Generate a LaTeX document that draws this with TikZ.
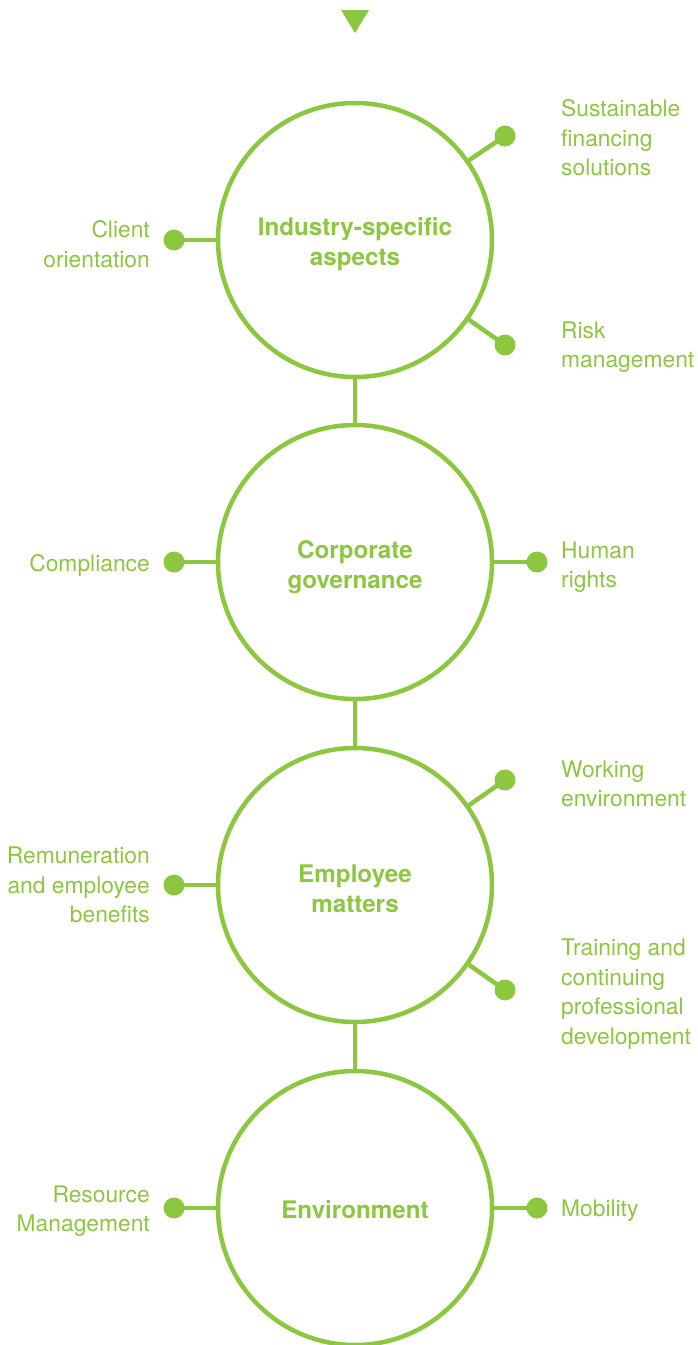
\documentclass[tikz,border=0pt]{standalone}
\usepackage{fontspec}
\setmainfont{TeX Gyre Heros}
\definecolor{grn}{HTML}{8DC63F}
\definecolor{txt}{HTML}{8DC63F}
\begin{document}
\begin{tikzpicture}[x=1pt,y=-1pt,
  circ/.style={circle,draw=grn,line width=4.5pt,minimum size=274pt,inner sep=0pt},
  ctext/.style={inner sep=0pt,font=\fontsize{24.2}{30}\selectfont\bfseries,text=txt,align=center},
  dot/.style={circle,fill=grn,minimum size=21pt,inner sep=0pt},
  conn/.style={draw=grn,line width=4.5pt},
  rlab/.style={anchor=west,inner sep=0pt,align=left,text=txt,font=\fontsize{22.8}{29.5}\selectfont},
  llab/.style={anchor=east,inner sep=0pt,align=right,text=txt,font=\fontsize{22.8}{29.5}\selectfont}]
\useasboundingbox (0,0) rectangle (697,1345);
% top triangle
\fill[grn] (341,10) -- (369,10) -- (355,33) -- cycle;
% circles
\node[circ] (c1) at (355,240) {};
\node[circ] (c2) at (355,562) {};
\node[circ] (c3) at (355,885) {};
\node[circ] (c4) at (355,1208) {};
\node[ctext] (h1) at (355,244) {Industry-specific\\aspects};
\node[ctext] (h2) at (355,567) {Corporate\\governance};
\node[ctext] (h3) at (355,889) {Employee\\matters};
\node[ctext] (h4) at (355,1210) {Environment};
\draw[conn] (c1.south) -- (c2.north);
\draw[conn] (c2.south) -- (c3.north);
\draw[conn] (c3.south) -- (c4.north);
% dots
\node[dot] (d1a) at (505,136) {};
\node[dot] (d1b) at (505,345) {};
\node[dot] (d1l) at (174,240) {};
\node[dot] (d2r) at (537,562) {};
\node[dot] (d2l) at (174,562) {};
\node[dot] (d3a) at (505,780) {};
\node[dot] (d3b) at (505,990) {};
\node[dot] (d3l) at (174,885) {};
\node[dot] (d4r) at (537,1208) {};
\node[dot] (d4l) at (174,1208) {};
% connectors
\draw[conn] (c1.35) -- (d1a.center);
\draw[conn] (c1.-35) -- (d1b.center);
\draw[conn] (c1.west) -- (d1l.center);
\draw[conn] (c2.east) -- (d2r.center);
\draw[conn] (c2.west) -- (d2l.center);
\draw[conn] (c3.35) -- (d3a.center);
\draw[conn] (c3.-35) -- (d3b.center);
\draw[conn] (c3.west) -- (d3l.center);
\draw[conn] (c4.east) -- (d4r.center);
\draw[conn] (c4.west) -- (d4l.center);
% labels
\node[rlab] (t1a) at (561,138) {Sustainable\\financing\\solutions};
\node[rlab] (t1b) at (561,347) {Risk\\management};
\node[llab] (t1l) at (150,244) {Client\\orientation};
\node[rlab] (t2r) at (561,567) {Human\\rights};
\node[llab] (t2l) at (150,565) {Compliance};
\node[rlab] (t3a) at (561,784) {Working\\environment};
\node[rlab] (t3b) at (561,994) {Training and\\continuing\\professional\\development};
\node[llab] (t3l) at (150,885) {Remuneration\\and employee\\benefits};
\node[rlab] (t4r) at (561,1211) {Mobility};
\node[llab] (t4l) at (150,1211) {Resource\\Management};
\end{tikzpicture}
\end{document}
